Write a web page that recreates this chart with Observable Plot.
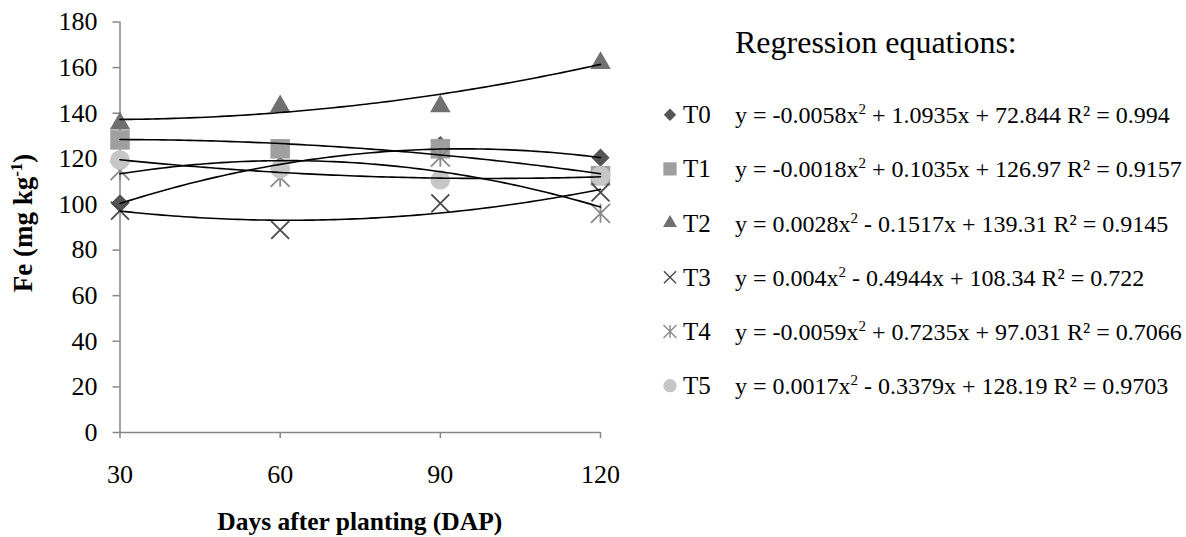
<!DOCTYPE html>
<html><head><meta charset="utf-8">
<script src="https://cdn.jsdelivr.net/npm/d3@7"></script>
<script src="https://cdn.jsdelivr.net/npm/@observablehq/plot@0.6"></script>
<style>body{margin:0;background:#fff} svg{display:block}</style>
</head><body><div id="chart"></div>
<script>
// ---- data ----
const days = [30, 60, 90, 120];
const series = ["T0", "T1", "T2", "T3", "T4", "T5"];
const T0 = [100.5, 117, 126, 120.5];
const T1 = [128.3, 124.4, 124.4, 112.6];
const T2 = [135.5, 143, 143, 162];
const T3 = [97.3, 88.8, 100.5, 105.3];
const T4 = [114.8, 111.9, 120.7, 96.1];
const T5 = [119.5, 115.6, 110.8, 112.6];
// trendline coefficients, as printed on the chart: y = a x^2 + b x + c
const coefA = [-0.0058, -0.0018, 0.0028, 0.004, -0.0059, 0.0017];
const coefB = [1.0935, 0.1035, -0.1517, -0.4944, 0.7235, -0.3379];
const coefC = [72.844, 126.97, 139.31, 108.34, 97.031, 128.19];
const eqHead = ["y = -0.0058x", "y = -0.0018x", "y = 0.0028x", "y = 0.004x", "y = -0.0059x", "y = 0.0017x"];
const eqTail = [" + 1.0935x + 72.844 R² = 0.994", " + 0.1035x + 126.97 R² = 0.9157", " - 0.1517x + 139.31 R² = 0.9145",
                " - 0.4944x + 108.34 R² = 0.722", " + 0.7235x + 97.031 R² = 0.7066", " - 0.3379x + 128.19 R² = 0.9703"];
const yTicks = [0, 20, 40, 60, 80, 100, 120, 140, 160, 180];
const xTicks = [30, 60, 90, 120];
const legendTitle = "Regression equations:";
const xTitle = "Days after planting (DAP)";

const values = [T0, T1, T2, T3, T4, T5];
const points = [];
series.forEach((s, i) => days.forEach((d, j) => points.push({s, x: d, y: values[i][j]})));
const curves = [];
series.forEach((s, i) => { for (let x = 30; x <= 120; x += 1) curves.push({s, x, y: coefA[i] * x * x + coefB[i] * x + coefC[i]}); });

const asterisk = {draw(ctx, size) {
  const r = Math.sqrt(size / Math.PI);
  ctx.moveTo(0, -r); ctx.lineTo(0, r);
  ctx.moveTo(-r, -r); ctx.lineTo(r, r);
  ctx.moveTo(-r, r); ctx.lineTo(r, -r);
}};
const styles = [
  {symbol: "diamond2", r: 8.2, fill: "#555555", stroke: "none"},
  {symbol: "square", r: 11, fill: "#9f9f9f", stroke: "none"},
  {symbol: "triangle", r: 7.6, fill: "#707070", stroke: "none"},
  {symbol: "times", r: 8.2, fill: "none", stroke: "#4a4a4a", strokeWidth: 1.8},
  {symbol: asterisk, r: 9.5, fill: "none", stroke: "#8a8a8a", strokeWidth: 1.8},
  {symbol: "circle", r: 9.8, fill: "#c6c6c6", stroke: "none"}
];
const axisGray = "#868686";
const font = "'Liberation Serif', 'Times New Roman', serif";

const plot = Plot.plot({
  width: 1186, height: 537,
  marginLeft: 119.5, marginRight: 586, marginTop: 21.5, marginBottom: 105,
  x: {domain: [30, 120]},
  y: {domain: [0, 180]},
  style: {fontFamily: font, fontSize: "26px", color: "black", background: "white"},
  marks: [
    Plot.axisY(yTicks, {tickSize: 7, tickPadding: 15.5, fontSize: 26, stroke: axisGray, strokeWidth: 1.5, fill: "black", label: null}),
    Plot.axisX(xTicks, {tickSize: 6, tickPadding: 26.5, fontSize: 26, stroke: axisGray, strokeWidth: 1.5, fill: "black", label: null}),
    Plot.ruleX([30], {y1: 0, y2: 180, stroke: axisGray, strokeWidth: 1.5}),
    Plot.ruleY([0], {x1: 30, x2: 120, stroke: axisGray, strokeWidth: 1.5}),
    ...series.map((s, i) => Plot.dot(points.filter(d => d.s === s), {x: "x", y: "y", ...styles[i]})),
    Plot.line(curves, {x: "x", y: "y", z: "s", stroke: "black", strokeWidth: 1.6})
  ]
});
document.getElementById("chart").appendChild(plot);

// titles and legend (text)
const svg = d3.select(plot);
const g = svg.append("g").attr("font-family", font).attr("fill", "black").attr("text-anchor", "start");
g.append("text").attr("x", 359.75).attr("y", 529.5).attr("text-anchor", "middle")
  .attr("font-size", 25.5).attr("font-weight", "bold").text(xTitle);
const yt = g.append("text").attr("transform", "translate(31.5,223) rotate(-90)").attr("text-anchor", "middle")
  .attr("font-size", 27).attr("font-weight", "bold");
yt.append("tspan").text("Fe (mg kg");
yt.append("tspan").attr("dy", -10).attr("font-size", 17).text("-1");
yt.append("tspan").attr("dy", 10).text(")");

g.append("text").attr("x", 735).attr("y", 53).attr("font-size", 32).attr("text-anchor", "start").text(legendTitle);
const symTypes = [d3.symbolDiamond2, d3.symbolSquare, d3.symbolTriangle, d3.symbolTimes, null, d3.symbolCircle];
series.forEach((s, i) => {
  const cy = 114.7 + 54.2 * i;
  const st = styles[i];
  const lr = st.r * 0.68;
  const size = Math.PI * lr * lr;
  const path = symTypes[i] ? d3.symbol(symTypes[i], size)() : d3.symbol(asterisk, size)();
  g.append("path").attr("d", path).attr("transform", `translate(670,${cy})`)
    .attr("fill", st.fill).attr("stroke", st.stroke).attr("stroke-width", st.strokeWidth ? 1.4 : null);
  g.append("text").attr("x", 683).attr("y", cy + 8.5).attr("font-size", 25).attr("text-anchor", "start").text(s);
  const t = g.append("text").attr("x", 735).attr("y", cy + 8.5).attr("font-size", 24).attr("text-anchor", "start");
  t.append("tspan").text(eqHead[i]);
  t.append("tspan").attr("dy", -9).attr("font-size", 15).text("2");
  t.append("tspan").attr("dy", 9).text(eqTail[i]);
});
</script>
</body></html>
